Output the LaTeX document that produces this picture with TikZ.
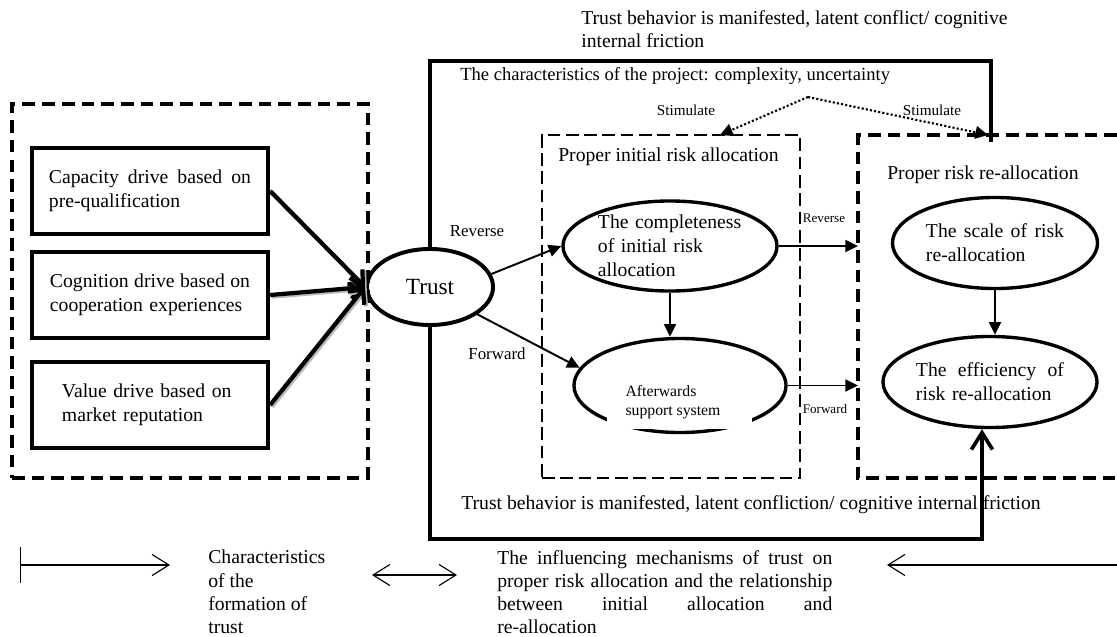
\documentclass[tikz,border=0pt]{standalone}
\usepackage{fontspec}
\setmainfont{Liberation Serif}
\usetikzlibrary{shapes.geometric,arrows.meta}
\newcommand{\jline}[2]{\makebox[#1][s]{#2}}

\tikzset{
  drivebox/.style={draw, line width=3pt, minimum width=5.9cm, minimum height=2.15cm, inner xsep=0pt, align=left, font=\fontsize{14}{17}\selectfont},
  oval/.style={draw, ellipse, line width=2.4pt, inner sep=0pt, align=left, font=\fontsize{14}{17}\selectfont},
  region/.style={draw, line width=2.6pt, dash pattern=on 9pt off 5pt},
  loopline/.style={line width=2.6pt},
  flow/.style={line width=1.4pt, -{Triangle[length=9pt,width=8.5pt]}},
  drive/.style={line width=3pt, -{Straight Barb[length=8pt,width=15pt]}, preaction={draw=gray!55, line width=3pt, transform canvas={shift={(1.2pt,-1.2pt)}}}},
  stimline/.style={line width=1.5pt, dash pattern=on 1.5pt off 1.5pt, -{Triangle[length=9pt,width=9pt]}},
  keyline/.style={line width=0.8pt},
  note/.style={font=\fontsize{14}{16.5}\selectfont, inner sep=0pt},
  tag/.style={font=\fontsize{12}{14}\selectfont, inner sep=0pt},
  stimtag/.style={font=\fontsize{10.8}{13}\selectfont, inner sep=0pt},
  smalltag/.style={font=\fontsize{9.3}{11}\selectfont, inner sep=0pt}
}

\begin{document}
\begin{tikzpicture}[x=0.025cm,y=-0.025cm]
\useasboundingbox (0,0) rectangle (1117,637);

% regions
\node[region, minimum width=8.9cm, minimum height=9.35cm] (formation) at (190,291) {};
\node[region, line width=2pt, dash pattern=on 9pt off 4pt, minimum width=6.45cm, minimum height=8.575cm] (initial) at (671,306.5) {};
\coordinate (reTL) at (858,135);
\draw[region] (1117,135) -- (reTL) |- (1117,478);

% drivers
\node[drivebox, text width=5.05cm] (capacity) at (150,191) {\jline{5.05cm}{Capacity\hfill drive\hfill based\hfill on}\\pre-qualification};
\node[drivebox, text width=5.0cm] (cognition) at (150,295) {\jline{5.0cm}{Cognition\hfill drive\hfill based\hfill on}\\cooperation experiences};
\node[drivebox, text width=4.4cm] (value) at (150,405) {Value drive based on\\market reputation};

% ovals
\node[oval, font=\fontsize{16.5}{18}\selectfont, line width=2.8pt, minimum width=3.15cm, minimum height=1.9cm] (trust) at (430,287) {Trust};
\node[oval, text width=3.6cm, minimum width=5.35cm, minimum height=2.25cm] (completeness) at (670,246) {The completeness\\of initial risk\\allocation};
\node[oval, minimum width=5.3cm, minimum height=2.35cm] (support) at (680,385.5) {};
\fill[white] (607,412) rectangle (752,428.5);
\node[tag, font=\fontsize{11.2}{13.5}\selectfont, align=left] (supportlabel) at (673,402) {Afterwards\\support system};
\node[oval, text width=3.45cm, minimum width=5.125cm, minimum height=2.275cm] (scale) at (995,243) {\jline{3.45cm}{The\hfill scale\hfill of\hfill risk}\\re-allocation};
\node[oval, text width=3.7cm, minimum width=5.35cm, minimum height=2.275cm] (efficiency) at (990,382) {\jline{3.7cm}{The\hfill efficiency\hfill of}\\risk re-allocation\hspace{0.4cm}};

% arrows
\foreach \src in {capacity,cognition,value}
  \draw[drive] (\src.east) -- (trust.west);
\draw[flow] (trust.12) -- (completeness.west);
\draw[flow] (trust.-30) -- (support.170);
\draw[flow] (completeness.south) -- (completeness.south |- support.north);
\draw[flow] (completeness.east) -- (completeness.east -| reTL);
\draw[flow] (support.east) -- (support.east -| reTL);
\draw[flow] (scale.south) -- (scale.south |- efficiency.north);

\coordinate (topturn) at (991,61);
\coordinate (topend) at (991,142);
\draw[loopline] (trust.north) |- (topturn) -- (topend);
\coordinate (botturn) at (982,539);
\draw[loopline, -{Straight Barb[length=12pt,width=15pt]}] (trust.south) |- (botturn) -- (botturn |- efficiency.south);

\coordinate (stimpeak) at (808,97);
\coordinate (stimleft) at (720,135);
\coordinate (stimright) at (988,135);
\draw[stimline] (stimpeak) -- (stimleft);
\draw[stimline] (stimpeak) -- (stimright);

% labels
\node[note, anchor=north west, align=left] (behaviortop) at (581,10) {Trust behavior is manifested, latent conflict/ cognitive\\internal friction};
\node[note, font=\fontsize{13.2}{16}\selectfont, anchor=west] (project) at (460,76) {The characteristics of the project: complexity, uncertainty};
\node[stimtag] (stimulateleft) at (686,110) {Stimulate};
\node[stimtag] (stimulateright) at (932,110) {Stimulate};
\node[note, anchor=west] (initialtitle) at (558,157) {Proper initial risk allocation};
\node[note, anchor=west] (retitle) at (887,175) {Proper risk re-allocation};
\node[tag] (reverse) at (477,231) {Reverse};
\node[tag] (forward) at (497,354) {Forward};
\node[smalltag] (reversesmall) at (824,218) {Reverse};
\node[smalltag] (forwardsmall) at (825,409) {Forward};
\node[note, anchor=west] (behaviorbottom) at (461,505) {Trust behavior is manifested, latent confliction/ cognitive internal friction};

% key
\coordinate (keystart) at (20,565);
\coordinate (keytip) at (170,565);
\draw[keyline, {Bar[width=25pt]}-{Straight Barb[length=12pt,width=15pt]}] (keystart) -- (keytip);
\node[note, anchor=north west, align=left] (formationkey) at (208,550) {Characteristics\\of the\\formation of\\trust};
\coordinate (pairleft) at (372,575);
\coordinate (pairright) at (457,575);
\draw[keyline, {Straight Barb[length=12pt,width=15pt]}-{Straight Barb[length=12pt,width=15pt]}] (pairleft) -- (pairright);
\node[note, anchor=north west, text width=8.375cm, align=left] (mechanismkey) at (497,550) {\jline{8.375cm}{The\hfill influencing\hfill mechanisms\hfill of\hfill trust\hfill on}\\\jline{8.375cm}{proper\hfill risk\hfill allocation\hfill and\hfill the\hfill relationship}\\\jline{8.375cm}{between\hfill initial\hfill allocation\hfill and}\\re-allocation};
\coordinate (backstart) at (1117,565);
\coordinate (backtip) at (887,565);
\draw[keyline, -{Straight Barb[length=12pt,width=15pt]}] (backstart) -- (backtip);

\end{tikzpicture}
\end{document}
